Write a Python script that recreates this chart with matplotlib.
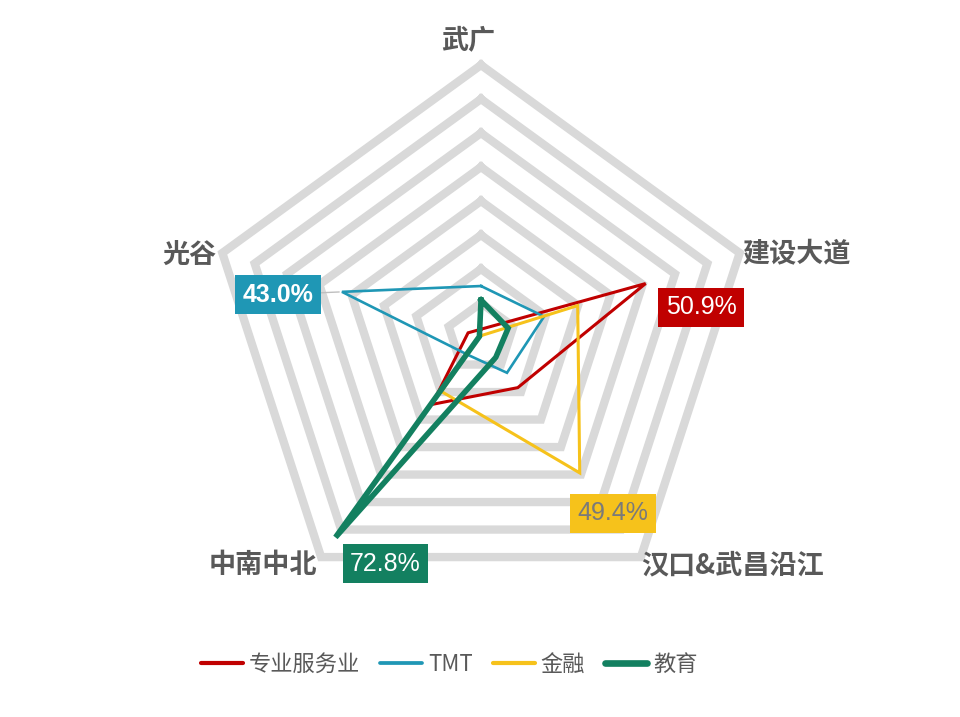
import numpy as np
import matplotlib.pyplot as plt

plt.rcParams['font.family'] = ['Noto Sans CJK SC', 'DejaVu Sans']

regions = ['武广', '建设大道', '汉口&武昌沿江', '中南中北', '光谷']
series_names = ['专业服务业', 'TMT', '金融', '教育']
prof_service = [2.3, 50.9, 18.4, 24.5, 4.0]
tmt = [15.0, 19.5, 13.0, 6.5, 43.0]
finance = [0.4, 29.9, 49.4, 19.8, 0.5]
education = [10.9, 8.4, 7.4, 72.8, 0.5]
ring_levels = [10, 20, 30, 40, 50, 60, 70, 80]

colors = ['#C00000', '#1F97B5', '#F6C21B', '#138060']
widths = [2.2, 1.9, 2.2, 4.0]

fig = plt.figure(figsize=(9.6, 7.17), dpi=100)
ax = fig.add_axes([0.2177, 0.1506, 0.5667, 0.7587], projection='polar')
ax.set_theta_offset(np.pi / 2)
ax.set_theta_direction(-1)
ax.set_ylim(0, 80)
ax.set_xticks([])
ax.set_yticks([])
ax.grid(False)
ax.spines['polar'].set_visible(False)
ax.set_facecolor('none')

theta = np.linspace(0, 2 * np.pi, len(regions), endpoint=False)
theta_c = np.append(theta, theta[0])

# pentagon grid
for r in ring_levels:
    ax.plot(theta_c, [r] * len(theta_c), color='#d9d9d9', lw=6,
            solid_joinstyle='miter', clip_on=False, zorder=1)

all_series = [prof_service, tmt, finance, education]
for name, vals, c, w in zip(series_names, all_series, colors, widths):
    v = np.append(vals, vals[0])
    ax.plot(theta_c, v, color=c, lw=w, label=name, clip_on=False, zorder=3,
            solid_joinstyle='miter')

# data labels: (series index, region index, offset pt, text color, weight)
labels = [
    (1, 4, (-46, -2), 'white', 'bold'),
    (0, 1, (40, -17), 'white', 'normal'),
    (2, 2, (24, -29), '#7a7a7a', 'normal'),
    (3, 3, (36, -19), 'white', 'normal'),
]
for si, ri, off, tc, fw in labels:
    val = all_series[si][ri]
    kw = {}
    if si == 1:
        kw['arrowprops'] = dict(arrowstyle='-', color='#bfbfbf', lw=1,
                                shrinkA=0, shrinkB=2)
    ax.annotate(f'{val:.1f}%', xy=(theta[ri], val), xytext=off,
                textcoords='offset points', ha='center', va='center',
                fontsize=18, color=tc, fontweight=fw,
                family=['Liberation Sans', 'DejaVu Sans'],
                bbox=dict(boxstyle='square,pad=0.3', fc=colors[si], ec='none'),
                zorder=5, annotation_clip=False, **kw)

# axis labels
label_off = [(-9, 18), (41, 0), (66, -6), (-42, -6), (-24, -1)]
for t, name, off in zip(theta, regions, label_off):
    ax.annotate(name, xy=(t, 80), xytext=off, textcoords='offset points',
                ha='center', va='center', fontsize=19.5, fontweight='bold',
                color='#595959', annotation_clip=False)

leg = fig.legend(loc='center', bbox_to_anchor=(0.468, 0.073), ncol=4,
                 frameon=False, fontsize=16, handlelength=1.9,
                 handletextpad=0.25, columnspacing=0.9)
for t in leg.get_texts():
    t.set_color('#595959')
for h in leg.get_lines():
    h.set_solid_capstyle('round')
    h.set_linewidth(h.get_linewidth() + 0.8)

fig.savefig('out.png', dpi=100, facecolor='white')
